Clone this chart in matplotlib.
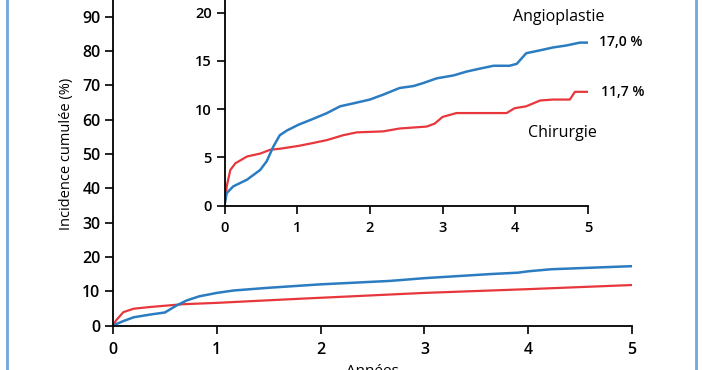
import matplotlib.pyplot as plt
from matplotlib.lines import Line2D

plt.rcParams['font.family'] = ['Open Sans', 'DejaVu Sans']

# main chart (0-100 %)
main_t_angio = [0, 0.1, 0.2, 0.36, 0.5, 0.61, 0.71, 0.83, 1.0, 1.16, 1.5, 2.0, 2.67, 3.0, 3.64, 3.9, 4.0, 4.22, 5.0]
main_v_angio = [0, 1.3, 2.4, 3.2, 3.8, 5.8, 7.3, 8.5, 9.5, 10.2, 11.0, 12.0, 13.0, 13.8, 15.0, 15.4, 15.8, 16.4, 17.3]
main_t_chir = [0, 0.03, 0.1, 0.2, 0.36, 0.67, 1.0, 1.8, 3.0, 4.0, 5.0]
main_v_chir = [0, 1.5, 3.9, 4.9, 5.4, 6.2, 6.6, 7.8, 9.5, 10.6, 11.8]

# inset (0-20 %)
ins_t_angio = [0, 0.03, 0.12, 0.31, 0.49, 0.58, 0.67, 0.76, 0.86, 1.02, 1.22, 1.41, 1.59, 1.77, 2.0,
               2.18, 2.41, 2.6, 2.73, 2.92, 3.15, 3.33, 3.51, 3.7, 3.92, 4.02, 4.15, 4.34, 4.52, 4.7, 4.89, 5.0]
ins_v_angio = [0, 1.3, 2.0, 2.7, 3.7, 4.6, 6.1, 7.3, 7.8, 8.4, 9.0, 9.6, 10.3, 10.6, 11.0,
               11.5, 12.2, 12.4, 12.7, 13.2, 13.5, 13.9, 14.2, 14.5, 14.5, 14.7, 15.8, 16.1, 16.4, 16.6, 16.9, 16.9]
ins_t_chir = [0, 0.03, 0.08, 0.15, 0.31, 0.49, 0.63, 0.76, 1.02, 1.22, 1.41, 1.63, 1.82, 2.18, 2.41,
              2.78, 2.89, 3.0, 3.19, 3.51, 3.88, 3.99, 4.15, 4.34, 4.52, 4.75, 4.82, 5.0]
ins_v_chir = [0, 2.0, 3.7, 4.4, 5.1, 5.4, 5.8, 5.9, 6.2, 6.5, 6.8, 7.3, 7.6, 7.7, 8.0,
              8.2, 8.5, 9.2, 9.6, 9.6, 9.6, 10.1, 10.3, 10.9, 11.0, 11.0, 11.8, 11.8]

x_ticks = [0, 1, 2, 3, 4, 5]
x_labels = ['0', '1', '2', '3', '4', '5']
main_yticks = list(range(0, 91, 10))
ins_yticks = [0, 5, 10, 15, 20]

blue = '#2b7cc1'
red = '#e8373c'

fig = plt.figure(figsize=(7.02, 3.70), dpi=100)

def style(ax, size, xpad):
    for s in ['top', 'right']:
        ax.spines[s].set_visible(False)
    for s in ['left', 'bottom']:
        ax.spines[s].set_linewidth(1.3)
    ax.tick_params(direction='out', length=6, width=1.2, labelsize=size, pad=3)
    ax.tick_params(axis='x', pad=xpad)
    for lab in ax.get_xticklabels() + ax.get_yticklabels():
        lab.set_fontweight('semibold')

ax = fig.add_axes([113/702, 1 - 325.5/370, 519/702, 343/370])
ax.plot(main_t_chir, main_v_chir, color=red, lw=1.6)
ax.plot(main_t_angio, main_v_angio, color=blue, lw=1.8)
ax.set_xlim(0, 5)
ax.set_ylim(0, 100)
ax.set_xticks(x_ticks, x_labels)
ax.set_yticks(main_yticks)
style(ax, 11.5, 6)
ax.set_ylabel('Incidence cumulée (%)', fontsize=10.5, labelpad=6)
ax.set_xlabel('Années', fontsize=11, labelpad=4)

axi = fig.add_axes([224.5/702, 1 - 205.7/370, 363.5/702, 22*9.65/370])
axi.plot(ins_t_chir, ins_v_chir, color=red, lw=1.6)
axi.plot(ins_t_angio, ins_v_angio, color=blue, lw=1.8)
axi.set_xlim(0, 5)
axi.set_ylim(0, 22)
axi.set_xticks(x_ticks, x_labels)
axi.set_yticks(ins_yticks)
axi.patch.set_alpha(0)
style(axi, 10.5, 5)

axi.text(4.6, 19.6, 'Angioplastie', fontsize=11.5, ha='center', va='center')
axi.text(4.65, 7.55, 'Chirurgie', fontsize=11.5, ha='center', va='center')
axi.text(5.15, 17.0, '17,0 %', fontsize=10, ha='left', va='center', fontweight='semibold')
axi.text(5.18, 11.8, '11,7 %', fontsize=10, ha='left', va='center', fontweight='semibold')

# light blue frame lines on both sides
for xp in [7/702, 696/702]:
    fig.add_artist(Line2D([xp, xp], [0, 1], transform=fig.transFigure, color='#6fa8dc', lw=2))

fig.savefig('out.png', dpi=100)
